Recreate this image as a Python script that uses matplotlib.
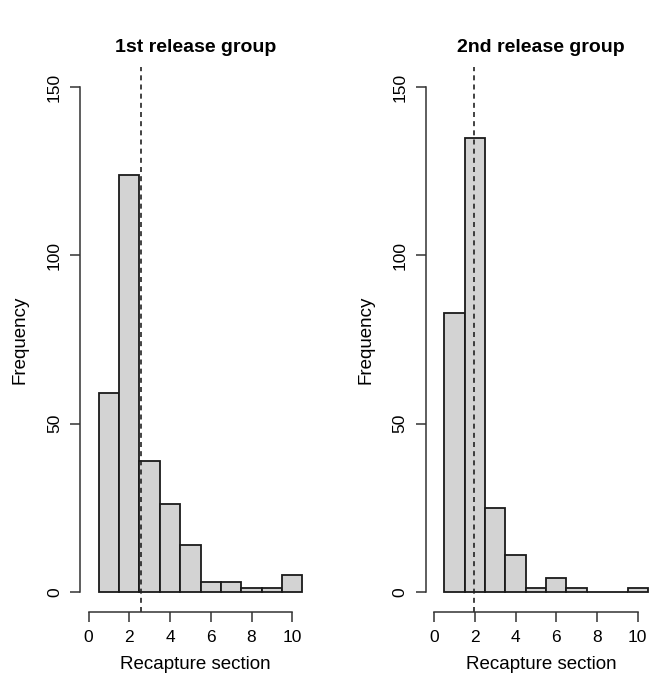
import matplotlib
matplotlib.use("Agg")

import matplotlib.pyplot as plt

plt.rcParams["font.family"] = ["Liberation Sans", "DejaVu Sans"]

# ── Data ─────────────────────────────────────────────────────────
sections = [1, 2, 3, 4, 5, 6, 7, 8, 9, 10]
counts_first = [59, 124, 39, 26, 14, 3, 3, 1, 1, 5]
counts_second = [83, 135, 25, 11, 1, 4, 1, 0, 0, 1]
mean_first = 2.56
mean_second = 1.98
titles = ["1st release group", "2nd release group"]
x_ticks = [0, 2, 4, 6, 8, 10]
y_ticks = [0, 50, 100, 150]

fig = plt.figure(figsize=(6.49, 6.8), dpi=100)

panels = [
    (counts_first, mean_first, titles[0], 80 / 649),
    (counts_second, mean_second, titles[1], 425.5 / 649),
]

for counts, mean, title, left in panels:
    ax = fig.add_axes([left, 68 / 680, 231 / 649, 545 / 680])
    ax.bar(sections, counts, width=1.0, color="#d3d3d3",
           edgecolor="#1a1a1a", linewidth=1.3)
    ax.axvline(mean, color="#222222", linestyle=(0, (3, 2.5)), linewidth=1.2)

    ax.set_xlim(-0.42, 10.92)
    ax.set_ylim(-6, 156)

    for side in ("top", "right"):
        ax.spines[side].set_visible(False)
    ax.spines["left"].set_bounds(0, 150)
    ax.spines["bottom"].set_bounds(0, 10)
    for side in ("left", "bottom"):
        ax.spines[side].set_color("#333333")
        ax.spines[side].set_linewidth(1.1)

    ax.set_xticks(x_ticks)
    ax.set_yticks(y_ticks)
    ax.set_yticklabels([str(v) for v in y_ticks], rotation=90, va="center")
    ax.tick_params(axis="both", length=7, width=1.1, color="#333333",
                   labelsize=12.5, pad=6)

    ax.set_title(title, fontsize=14, fontweight="bold", pad=11)
    ax.set_xlabel("Recapture section", fontsize=13.5, labelpad=8)
    ax.set_ylabel("Frequency", fontsize=13.5, labelpad=13)

fig.savefig("out.png", dpi=100)
